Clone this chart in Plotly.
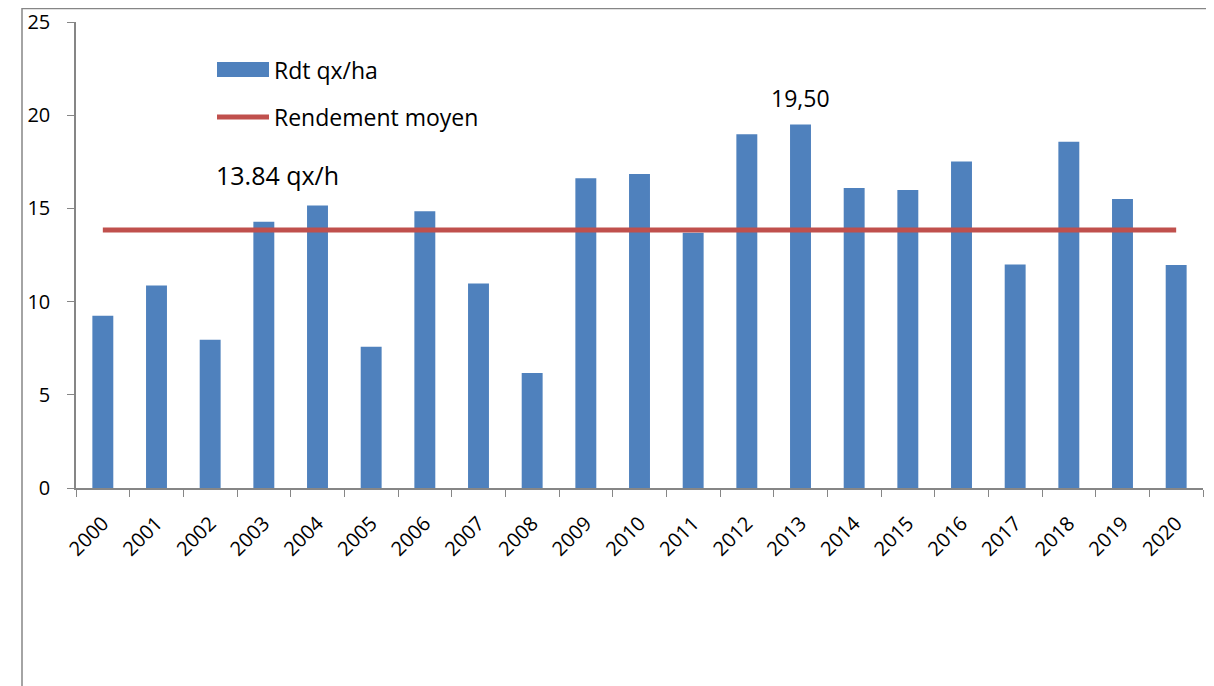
import plotly.graph_objects as go

# Rendement annuel (qx/ha)
years = [str(y) for y in range(2000, 2021)]
rendement = [9.24, 10.86, 7.95, 14.28, 15.15, 7.58, 14.85, 10.97, 6.17, 16.62,
             16.84, 13.70, 18.98, 19.50, 16.10, 15.99, 17.51, 11.99, 18.57, 15.50, 11.97]
moyenne = 13.84
y_ticks = [0, 5, 10, 15, 20, 25]
max_year = "2013"
max_label = "19,50"
mean_label = "13.84 qx/h"
bar_name = "Rdt qx/ha"
line_name = "Rendement moyen"

BLUE = "#4F81BD"
RED = "#C0504D"
GREY = "#868686"
FONT = "Open Sans"

# la page a une marge de 8 px : la figure commence en (8, 8) de la capture
OFF = 8
W, H = 1214 - OFF, 686 - OFF
# zone de tracé visée (coordonnées de la capture) : x 76..1203, y 22..488
L, R, T = 76 - OFF, W - (1203 - OFF), 22 - OFF
B = H - (488 - OFF)
pw, ph = W - L - R, H - T - B
px = lambda x: (x - OFF - L) / pw
py = lambda y: (H - B - (y - OFF)) / ph

fig = go.Figure()
fig.add_trace(go.Bar(x=years, y=rendement, name=bar_name, marker={"color": BLUE, "line": {"width": 0}}))
fig.add_trace(go.Scatter(x=years, y=[moyenne] * len(years), mode="lines", name=line_name,
                         line={"color": RED, "width": 5}))

# légende dessinée à la main (symboles larges comme dans Excel)
fig.add_shape(type="rect", xref="paper", yref="paper", x0=px(217), x1=px(269), y0=py(77), y1=py(62),
              fillcolor=BLUE, line={"width": 0})
fig.add_shape(type="line", xref="paper", yref="paper", x0=px(217), x1=px(269), y0=py(117), y1=py(117),
              line={"color": RED, "width": 5})
fig.add_annotation(xref="paper", yref="paper", x=px(272), y=py(70), text=bar_name, showarrow=False,
                   xanchor="left", yanchor="middle", font={"size": 23})
fig.add_annotation(xref="paper", yref="paper", x=px(272), y=py(117), text=line_name, showarrow=False,
                   xanchor="left", yanchor="middle", font={"size": 23})

fig.add_annotation(xref="paper", yref="paper", x=px(214), y=py(175), text=mean_label, showarrow=False,
                   xanchor="left", yanchor="middle", font={"size": 25})
# sur un axe catégoriel, la position se donne par l'indice de la catégorie
i_max = years.index(max_year)
fig.add_annotation(x=i_max, y=rendement[i_max], text=max_label, showarrow=False,
                   yanchor="middle", yshift=27, font={"size": 23})

# bordure extérieure
fig.add_shape(type="rect", xref="paper", yref="paper", x0=px(22), x1=px(1220), y0=py(700), y1=py(8.5),
              line={"color": GREY, "width": 1.5}, layer="below")

fig.update_layout(
    width=W, height=H,
    margin={"l": L, "r": R, "t": T, "b": B},
    paper_bgcolor="white", plot_bgcolor="white",
    font={"family": FONT, "color": "black", "size": 20},
    showlegend=False,
    bargap=0.61,
    xaxis={"type": "category", "range": [-0.5, len(years) - 0.5], "tickangle": -45,
           "tickson": "boundaries", "ticks": "outside", "ticklabelstandoff": 14, "automargin": False,
           "ticklen": 7, "tickcolor": GREY, "showline": True, "linecolor": GREY, "linewidth": 1.5,
           "showgrid": False, "tickfont": {"size": 20}},
    yaxis={"range": [0, 25], "tickvals": y_ticks, "ticks": "outside", "ticklen": 7, "tickcolor": GREY,
           "showline": True, "linecolor": GREY, "linewidth": 1.5, "showgrid": False, "zeroline": False,
           "automargin": False, "ticklabelstandoff": 13, "ticklabeloverflow": "allow",
           "tickfont": {"size": 20}},
)

fig.write_html("out.html")
